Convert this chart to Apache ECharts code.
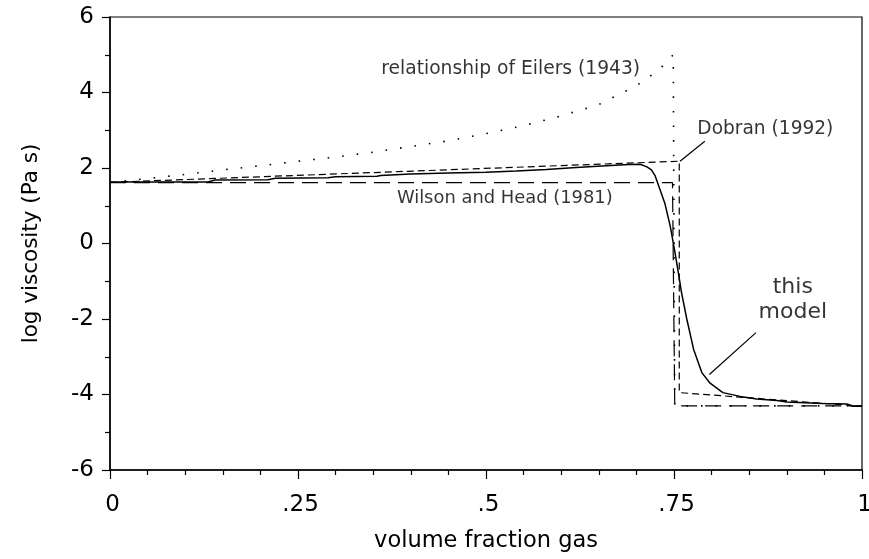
<!DOCTYPE html>
<html>
<head>
<meta charset="utf-8">
<script src="https://cdn.jsdelivr.net/npm/echarts@6/dist/echarts.min.js"></script>
<style>
html,body{margin:0;padding:0;background:#fff;}
#chart{width:869px;height:559px;}
</style>
</head>
<body>
<div id="chart"></div>
<script>
// ---- data ----
const xTickValues = [0, 0.25, 0.5, 0.75, 1];
const xTickLabels = ['0', '.25', '.5', '.75', '1'];
const yTickValues = [-6, -4, -2, 0, 2, 4, 6];
const yTickLabels = ['-6', '-4', '-2', '0', '2', '4', '6'];

// this model (solid)
const modelX = [0, 0.13, 0.14, 0.21, 0.22, 0.29, 0.30, 0.355, 0.36, 0.40, 0.45, 0.50, 0.54, 0.58, 0.62, 0.66, 0.69, 0.705, 0.714, 0.720, 0.725, 0.731, 0.738, 0.745, 0.751, 0.756, 0.760, 0.767, 0.776, 0.787, 0.798, 0.815, 0.838, 0.860, 0.887, 0.900, 0.948, 0.980, 0.988, 1.0];
const modelY = [1.63, 1.63, 1.68, 1.69, 1.73, 1.74, 1.77, 1.78, 1.80, 1.84, 1.87, 1.89, 1.92, 1.96, 2.01, 2.06, 2.09, 2.10, 2.03, 1.95, 1.79, 1.45, 1.05, 0.46, -0.2, -0.8, -1.3, -2.0, -2.8, -3.42, -3.7, -3.95, -4.05, -4.12, -4.16, -4.2, -4.24, -4.25, -4.31, -4.31];

// relationship of Eilers (1943) (dotted)
const eilersX = [0, 0.05, 0.1, 0.15, 0.2, 0.25, 0.3, 0.35, 0.4, 0.45, 0.5, 0.55, 0.6, 0.65, 0.7, 0.73, 0.749, 0.751, 1.0];
const eilersY = [1.62, 1.72, 1.83, 1.95, 2.06, 2.18, 2.29, 2.42, 2.57, 2.72, 2.91, 3.12, 3.38, 3.68, 4.18, 4.6, 5.0, -4.3, -4.3];

// Dobran (1992) (short dash)
const dobranX = [0, 0.757, 0.757, 1.0];
const dobranY = [1.62, 2.18, -3.95, -4.31];

// Wilson and Head (1981) (long dash)
const wilsonX = [0, 0.748, 0.751, 1.0];
const wilsonY = [1.61, 1.61, -4.3, -4.3];

// annotation texts and anchor points (data coords)
const annTexts = ['relationship of Eilers (1943)', 'Dobran (1992)', 'Wilson and Head (1981)', 'this\nmodel'];
const annX = [0.705, 0.781, 0.525, 0.908];
const annY = [4.62, 3.02, 1.19, -1.49];
const annAlign = ['right', 'left', 'center', 'center'];
const annSize = [18.7, 18.6, 17.9, 22];

// leader lines
const dobranLeaderX = [0.758, 0.791];
const dobranLeaderY = [2.18, 2.71];
const modelLeaderX = [0.797, 0.859];
const modelLeaderY = [-3.47, -2.36];

const zip = (xs, ys) => xs.map((x, i) => [x, ys[i]]);

const FONT = '"DejaVu Sans", sans-serif';
const chart = echarts.init(document.getElementById('chart'), null, {renderer: 'canvas'});

const lineBase = {type: 'line', symbol: 'none', smooth: false, silent: true, animation: false, z: 3};

const option = {
  animation: false,
  backgroundColor: '#fff',
  grid: {left: 110, right: 7, top: 17, bottom: 89, show: true, borderColor: '#000', borderWidth: 1.2,
    backgroundColor: 'transparent', containLabel: false, outerBoundsMode: 'none'},
  xAxis: {
    type: 'value', min: 0, max: 1, interval: 0.25,
    name: 'volume fraction gas', nameLocation: 'middle', nameGap: 60,
    nameTextStyle: {fontFamily: FONT, fontSize: 22.5, color: '#000'},
    axisLine: {show: true, onZero: false, lineStyle: {color: '#000', width: 1.5}},
    axisTick: {show: true, length: 9, lineStyle: {color: '#000', width: 1.2}},
    minorTick: {show: true, splitNumber: 5, length: 5, lineStyle: {color: '#000', width: 1.2}},
    splitLine: {show: false},
    axisLabel: {fontFamily: FONT, fontSize: 23, color: '#000', margin: 24, padding: [0, 0, 0, 5],
      formatter: v => { const i = xTickValues.findIndex(t => Math.abs(t - v) < 1e-9); return i >= 0 ? xTickLabels[i] : ''; }}
  },
  yAxis: {
    type: 'value', min: -6, max: 6, interval: 2,
    name: 'log viscosity (Pa s)', nameLocation: 'middle', nameGap: 68, nameRotate: 90,
    nameTextStyle: {fontFamily: FONT, fontSize: 21.5, color: '#000'},
    axisLine: {show: true, onZero: false, lineStyle: {color: '#000', width: 1.5}},
    axisTick: {show: true, length: 8, lineStyle: {color: '#000', width: 1.2}},
    minorTick: {show: true, splitNumber: 2, length: 5, lineStyle: {color: '#000', width: 1.2}},
    splitLine: {show: false},
    axisLabel: {fontFamily: FONT, fontSize: 23, color: '#000', margin: 16,
      formatter: v => { const i = yTickValues.findIndex(t => Math.abs(t - v) < 1e-9); return i >= 0 ? yTickLabels[i] : ''; }}
  },
  series: [
    Object.assign({}, lineBase, {name: 'Eilers', data: zip(eilersX, eilersY), lineStyle: {color: '#000', width: 1.6, type: [1.6, 13], cap: 'butt'}}),
    Object.assign({}, lineBase, {name: 'Wilson', data: zip(wilsonX, wilsonY), lineStyle: {color: '#000', width: 1.2, type: [16, 8]}}),
    Object.assign({}, lineBase, {name: 'Dobran', data: zip(dobranX, dobranY), lineStyle: {color: '#000', width: 1.2, type: [7, 4]}}),
    Object.assign({}, lineBase, {name: 'model', data: zip(modelX, modelY), lineStyle: {color: '#000', width: 1.5, type: 'solid'}}),
    Object.assign({}, lineBase, {name: 'dobranLeader', data: zip(dobranLeaderX, dobranLeaderY), lineStyle: {color: '#000', width: 1.2}}),
    Object.assign({}, lineBase, {name: 'modelLeader', data: zip(modelLeaderX, modelLeaderY), lineStyle: {color: '#000', width: 1.2}}),
    {
      type: 'scatter', silent: true, symbolSize: 0, z: 5,
      data: annTexts.map((t, i) => ({
        value: [annX[i], annY[i]],
        label: {show: true, formatter: t, position: [0, 0], align: annAlign[i], verticalAlign: 'middle',
          fontFamily: FONT, fontSize: annSize[i], color: '#000', lineHeight: 25}
      }))
    }
  ]
};
chart.setOption(option);
</script>
</body>
</html>
